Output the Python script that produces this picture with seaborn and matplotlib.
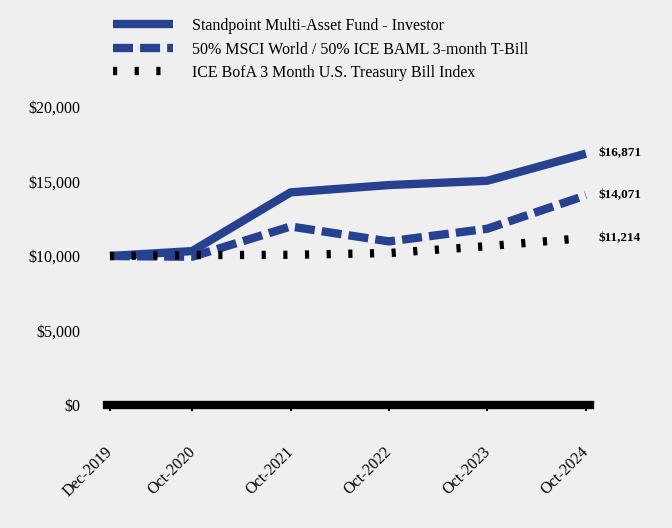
import matplotlib
matplotlib.use("Agg")
import matplotlib.pyplot as plt
import matplotlib.transforms as mtransforms
import seaborn as sns
import pandas as pd

dates = ["2019-12-31", "2020-10-31", "2021-10-31", "2022-10-31", "2023-10-31", "2024-10-31"]
tick_labels = ["Dec-2019", "Oct-2020", "Oct-2021", "Oct-2022", "Oct-2023", "Oct-2024"]
fund = [10000, 10330, 14270, 14760, 15050, 16871]
blend = [10000, 9950, 11980, 10980, 11830, 14071]
tbill = [10000, 10060, 10080, 10200, 10660, 11214]
series_names = ["Standpoint Multi-Asset Fund - Investor",
                "50% MSCI World / 50% ICE BAML 3-month T-Bill",
                "ICE BofA 3 Month U.S. Treasury Bill Index"]
end_labels = ["$16,871", "$14,071", "$11,214"]
y_ticks = [0, 5000, 10000, 15000, 20000]
y_tick_labels = ["$0", "$5,000", "$10,000", "$15,000", "$20,000"]

sns.set_style("white")
plt.rcParams['font.family'] = ['Liberation Serif', 'DejaVu Serif']
plt.rcParams['text.color'] = 'black'
plt.rcParams['xtick.color'] = 'black'
plt.rcParams['ytick.color'] = 'black'
plt.rcParams['xtick.bottom'] = True
bg = "#efefef"
blue = "#26418f"

fig = plt.figure(figsize=(6.72, 5.28), dpi=100, facecolor=bg)
ax = fig.add_axes([107/672, 1-405/528, (590-107)/672, (405-107)/528])
ax.set_facecolor(bg)

x = pd.to_datetime(dates)
df = pd.DataFrame({"date": x, "fund": fund, "blend": blend, "tbill": tbill})

sns.lineplot(data=df, x="date", y="fund", ax=ax, color=blue, linewidth=6,
             label=series_names[0], solid_capstyle="butt")
sns.lineplot(data=df, x="date", y="blend", ax=ax, color=blue, linewidth=6,
             label=series_names[1])
sns.lineplot(data=df, x="date", y="tbill", ax=ax, color="black", linewidth=6,
             label=series_names[2])
lines = ax.get_lines()
lines[1].set_dashes((2.4, 0.85))
lines[1].set_dash_capstyle("butt")
lines[2].set_dashes((0.5, 2.1))
lines[2].set_dash_capstyle("butt")

ax.set_ylim(0, 20000)
ax.set_xlim(pd.Timestamp("2019-12-20"), pd.Timestamp("2024-11-15"))
ax.set_yticks(y_ticks)
ax.set_yticklabels(y_tick_labels, fontsize=11.5)
ax.set_xticks(x)
ax.set_xticklabels(tick_labels, rotation=45, ha="right", rotation_mode="anchor", fontsize=11.5)
ax.set_xlabel("")
ax.set_ylabel("")
for s in ["top", "right", "left"]:
    ax.spines[s].set_visible(False)
ax.spines["bottom"].set_linewidth(6)
ax.spines["bottom"].set_color("black")
ax.tick_params(axis="x", length=4, width=1.5, color="black", pad=24, direction="out")
ax.tick_params(axis="y", length=0, pad=19)
shift = mtransforms.ScaledTranslation(-5/100, 0, fig.dpi_scale_trans)
for lab in ax.get_xticklabels():
    lab.set_transform(lab.get_transform() + shift)

for val, lab in zip([fund[-1], blend[-1], tbill[-1]], end_labels):
    ax.annotate(lab, xy=(x[-1], val), xytext=(9, 0), textcoords="offset points",
                va="center", ha="left", fontsize=9.5, fontweight="bold", annotation_clip=False)

ax.legend(loc="upper left", bbox_to_anchor=(113/672, 1-18/528), bbox_transform=fig.transFigure,
          frameon=False, fontsize=11.5, handlelength=3.75, handletextpad=1.2,
          labelspacing=0.47, borderpad=0, borderaxespad=0)

fig.savefig("out.png", dpi=100, facecolor=bg)
